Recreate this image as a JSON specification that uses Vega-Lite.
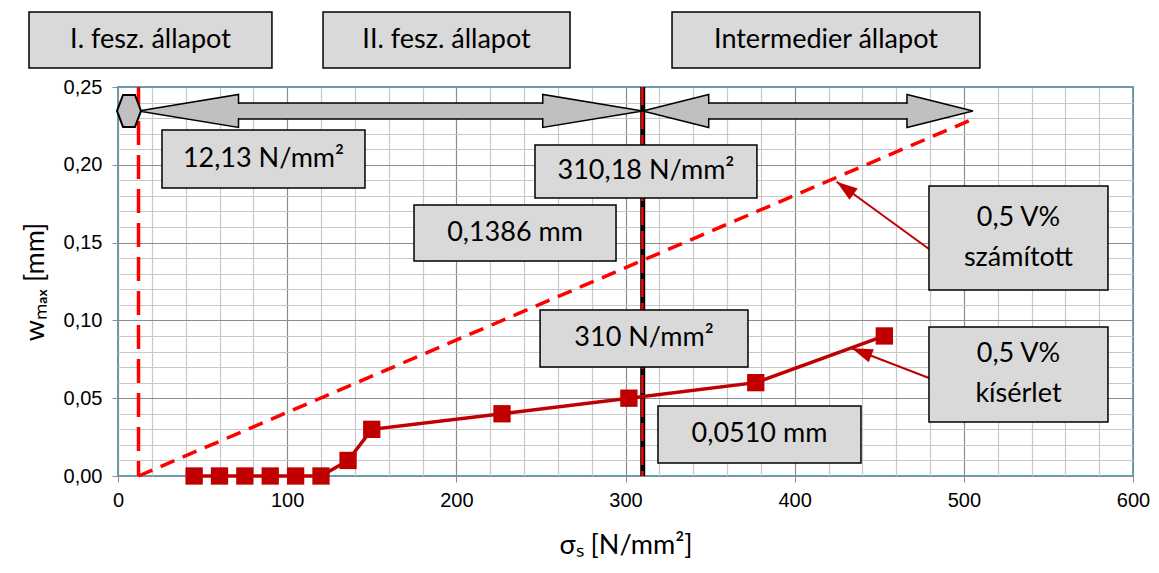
{
  "$schema": "https://vega.github.io/schema/vega-lite/v6.json",
  "width": 1015,
  "height": 389,
  "autosize": {"type": "none"},
  "padding": {"left": 118, "top": 87, "right": 26, "bottom": 97},
  "background": "white",
  "config": {
    "view": {"stroke": "#4BACC6", "strokeWidth": 2},
    "axis": {
      "labelFont": "Liberation Sans",
      "labelFontSize": 20,
      "labelColor": "black",
      "titleFont": "Lato",
      "titleFontSize": 27,
      "titleFontWeight": "normal",
      "titleColor": "black",
      "domain": false,
      "grid": true,
      "gridWidth": 1.2,
      "tickSize": 6
    }
  },
  "datasets": {
    "experiment": [
      {"sigma": 45, "w": 0},
      {"sigma": 60, "w": 0},
      {"sigma": 75, "w": 0},
      {"sigma": 90, "w": 0},
      {"sigma": 105, "w": 0},
      {"sigma": 120, "w": 0},
      {"sigma": 136, "w": 0.01},
      {"sigma": 150, "w": 0.03},
      {"sigma": 227, "w": 0.04},
      {"sigma": 302, "w": 0.05},
      {"sigma": 377, "w": 0.06},
      {"sigma": 453, "w": 0.09}
    ],
    "calculated": [
      {"sigma": 12.13, "w": 0},
      {"sigma": 310.18, "w": 0.1386},
      {"sigma": 505, "w": 0.2292}
    ],
    "arrows": [
      {"name": "a1", "tipL": 12.13, "tipR": 310.18, "baseL": 71.2, "baseR": 251.1},
      {"name": "a2", "tipL": 310.18, "tipR": 505.4, "baseL": 349.2, "baseR": 466.4}
    ],
    "boxes": [
      {"label": "I. fesz. állapot", "lines": 1, "x1": -52.6, "x2": 91.0, "y1": 0.2982, "y2": 0.2622},
      {"label": "II. fesz. állapot", "lines": 1, "x1": 121.2, "x2": 267.2, "y1": 0.2982, "y2": 0.2622},
      {"label": "Intermedier állapot", "lines": 1, "x1": 327.5, "x2": 509.5, "y1": 0.2982, "y2": 0.2622},
      {"label": "12,13 N/mm²", "lines": 1, "x1": 26.0, "x2": 146.0, "y1": 0.2224, "y2": 0.1851},
      {"label": "310,18 N/mm²", "lines": 1, "x1": 246.5, "x2": 377.7, "y1": 0.2127, "y2": 0.1787},
      {"label": "0,1386 mm", "lines": 1, "x1": 175.0, "x2": 294.4, "y1": 0.1742, "y2": 0.1382},
      {"label": "0,5 V%\nszámított", "lines": 2, "x1": 479.4, "x2": 585.2, "y1": 0.1864, "y2": 0.1195},
      {"label": "310 N/mm²", "lines": 1, "x1": 249.5, "x2": 372.4, "y1": 0.1067, "y2": 0.0701},
      {"label": "0,0510 mm", "lines": 1, "x1": 319.2, "x2": 439.2, "y1": 0.0450, "y2": 0.0084},
      {"label": "0,5 V%\nkísérlet", "lines": 2, "x1": 479.4, "x2": 585.2, "y1": 0.0958, "y2": 0.0347}
    ],
    "callouts": [
      {"name": "szamitott", "x1": 479.4, "y1": 0.1459, "x2": 424.8, "y2": 0.1891},
      {"name": "kiserlet", "x1": 479.4, "y1": 0.0630, "x2": 433.7, "y2": 0.0821}
    ],
    "vlines": [
      {"name": "s1", "sigma": 12.13},
      {"name": "s2", "sigma": 310.18},
      {"name": "s3", "sigma": 310}
    ],
    "smallarrow": [
      {"sigma": 6.5, "w": 0.2346}
    ]
  },
  "layer": [
    {
      "data": {"name": "experiment"},
      "mark": {"type": "rule", "opacity": 0},
      "encoding": {
        "x": {
          "field": "sigma", "type": "quantitative",
          "scale": {"domain": [0, 600], "nice": false, "zero": false},
          "axis": {
            "values": [0, 20, 40, 60, 80, 100, 120, 140, 160, 180, 200, 220, 240, 260, 280, 300, 320, 340, 360, 380, 400, 420, 440, 460, 480, 500, 520, 540, 560, 580, 600],
            "tickCount": 200,
            "format": "d",
            "labelExpr": "datum.value % 100 === 0 ? datum.label : ''",
            "labelOverlap": false,
            "labelFlush": false,
            "labelBound": false,
            "gridColor": {"condition": {"test": "datum.value % 100 === 0", "value": "#8C8C8C"}, "value": "#C8C8C8"},
            "tickColor": {"condition": {"test": "datum.value % 100 === 0", "value": "#8C8C8C"}, "value": "rgba(0,0,0,0)"},
            "labelPadding": 8,
            "title": "σₛ [N/mm²]",
            "titlePadding": 22
          }
        },
        "y": {
          "field": "w", "type": "quantitative",
          "scale": {"domain": [0, 0.25], "nice": false, "zero": false},
          "axis": {
            "values": [0, 0.01, 0.02, 0.03, 0.04, 0.05, 0.06, 0.07, 0.08, 0.09, 0.1, 0.11, 0.12, 0.13, 0.14, 0.15, 0.16, 0.17, 0.18, 0.19, 0.2, 0.21, 0.22, 0.23, 0.24, 0.25],
            "tickCount": 200,
            "labelExpr": "round(datum.value*100) % 5 === 0 ? replace(format(datum.value, '.2f'), '.', ',') : ''",
            "labelOverlap": false,
            "labelFlush": false,
            "labelBound": false,
            "gridColor": {"condition": {"test": "round(datum.value*100) % 5 === 0", "value": "#8C8C8C"}, "value": "#C8C8C8"},
            "tickColor": {"condition": {"test": "round(datum.value*100) % 5 === 0", "value": "#8C8C8C"}, "value": "rgba(0,0,0,0)"},
            "labelPadding": 10,
            "title": "wₘₐₓ [mm]",
            "titlePadding": 14
          }
        }
      }
    },
    {
      "data": {"name": "vlines"},
      "transform": [{"filter": "datum.name === 's1'"}],
      "mark": {"type": "rule", "color": "#FF0000", "strokeWidth": 3.5, "strokeDash": [24, 10]},
      "encoding": {
        "x": {"field": "sigma", "type": "quantitative"}
      }
    },
    {
      "data": {"name": "vlines"},
      "transform": [{"filter": "datum.name === 's2'"}],
      "mark": {"type": "rule", "color": "black", "strokeWidth": 5},
      "encoding": {
        "x": {"field": "sigma", "type": "quantitative"}
      }
    },
    {
      "data": {"name": "vlines"},
      "transform": [{"filter": "datum.name === 's3'"}],
      "mark": {"type": "rule", "color": "#FF0000", "strokeWidth": 2.5, "strokeDash": [18, 6]},
      "encoding": {
        "x": {"field": "sigma", "type": "quantitative"}
      }
    },
    {
      "data": {"name": "calculated"},
      "mark": {"type": "line", "color": "#FF0000", "strokeWidth": 3.5, "strokeDash": [15, 9]},
      "encoding": {
        "x": {"field": "sigma", "type": "quantitative"},
        "y": {"field": "w", "type": "quantitative"}
      }
    },
    {
      "data": {"name": "experiment"},
      "mark": {"type": "line", "color": "#C00000", "strokeWidth": 3.5,
        "point": {"shape": "square", "size": 300, "filled": true, "color": "#C00000", "opacity": 1}},
      "encoding": {
        "x": {"field": "sigma", "type": "quantitative"},
        "y": {"field": "w", "type": "quantitative"}
      }
    },
    {
      "data": {"name": "arrows"},
      "mark": {"type": "rect", "fill": "#C0C0C0", "stroke": "black", "strokeWidth": 1.5},
      "encoding": {
        "x": {"field": "baseL", "type": "quantitative"},
        "x2": {"field": "baseR"},
        "y": {"datum": 0.2397, "type": "quantitative"},
        "y2": {"datum": 0.2294}
      }
    },
    {
      "data": {"name": "arrows"},
      "transform": [{"filter": "datum.name === 'a1'"}],
      "mark": {"type": "point", "shape": "M0,0L2,-0.33L2,0.33Z", "size": 10000, "filled": true, "fill": "#C0C0C0", "stroke": "black", "strokeWidth": 1.5, "opacity": 1},
      "encoding": {
        "x": {"field": "tipL", "type": "quantitative"},
        "y": {"datum": 0.2346, "type": "quantitative"}
      }
    },
    {
      "data": {"name": "arrows"},
      "transform": [{"filter": "datum.name === 'a1'"}],
      "mark": {"type": "point", "shape": "M0,0L-2,-0.33L-2,0.33Z", "size": 10000, "filled": true, "fill": "#C0C0C0", "stroke": "black", "strokeWidth": 1.5, "opacity": 1},
      "encoding": {
        "x": {"field": "tipR", "type": "quantitative"},
        "y": {"datum": 0.2346, "type": "quantitative"}
      }
    },
    {
      "data": {"name": "arrows"},
      "transform": [{"filter": "datum.name === 'a2'"}],
      "mark": {"type": "point", "shape": "M0,0L2,-0.5L2,0.5Z", "size": 4356, "filled": true, "fill": "#C0C0C0", "stroke": "black", "strokeWidth": 1.5, "opacity": 1},
      "encoding": {
        "x": {"field": "tipL", "type": "quantitative"},
        "y": {"datum": 0.2346, "type": "quantitative"}
      }
    },
    {
      "data": {"name": "arrows"},
      "transform": [{"filter": "datum.name === 'a2'"}],
      "mark": {"type": "point", "shape": "M0,0L-2,-0.5L-2,0.5Z", "size": 4356, "filled": true, "fill": "#C0C0C0", "stroke": "black", "strokeWidth": 1.5, "opacity": 1},
      "encoding": {
        "x": {"field": "tipR", "type": "quantitative"},
        "y": {"datum": 0.2346, "type": "quantitative"}
      }
    },
    {
      "data": {"name": "arrows"},
      "mark": {"type": "rect", "fill": "#C0C0C0", "strokeWidth": 0, "xOffset": -4, "x2Offset": 4},
      "encoding": {
        "x": {"field": "baseL", "type": "quantitative"},
        "x2": {"field": "baseR"},
        "y": {"datum": 0.2391, "type": "quantitative"},
        "y2": {"datum": 0.2300}
      }
    },
    {
      "data": {"name": "smallarrow"},
      "mark": {"type": "point", "shape": "M-1.5,0L-0.75,-2L0.75,-2L1.5,0L0.75,2L-0.75,2Z", "size": 256, "filled": true, "fill": "#C0C0C0", "stroke": "black", "strokeWidth": 2, "opacity": 1},
      "encoding": {
        "x": {"field": "sigma", "type": "quantitative"},
        "y": {"field": "w", "type": "quantitative"}
      }
    },
    {
      "data": {"name": "callouts"},
      "mark": {"type": "rule", "color": "#C00000", "strokeWidth": 2},
      "encoding": {
        "x": {"field": "x1", "type": "quantitative"},
        "y": {"field": "y1", "type": "quantitative"},
        "x2": {"field": "x2"},
        "y2": {"field": "y2"}
      }
    },
    {
      "data": {"name": "callouts"},
      "transform": [{"filter": "datum.name === 'szamitott'"}],
      "mark": {"type": "point", "shape": "M0,0L0.5,1.5L-0.5,1.5Z", "size": 784, "filled": true, "color": "#C00000", "opacity": 1, "angle": 306},
      "encoding": {
        "x": {"field": "x2", "type": "quantitative"},
        "y": {"field": "y2", "type": "quantitative"}
      }
    },
    {
      "data": {"name": "callouts"},
      "transform": [{"filter": "datum.name === 'kiserlet'"}],
      "mark": {"type": "point", "shape": "M0,0L0.5,1.5L-0.5,1.5Z", "size": 784, "filled": true, "color": "#C00000", "opacity": 1, "angle": 291},
      "encoding": {
        "x": {"field": "x2", "type": "quantitative"},
        "y": {"field": "y2", "type": "quantitative"}
      }
    },
    {
      "data": {"name": "boxes"},
      "mark": {"type": "rect", "fill": "#D9D9D9", "stroke": "black", "strokeWidth": 1.5},
      "encoding": {
        "x": {"field": "x1", "type": "quantitative"},
        "x2": {"field": "x2"},
        "y": {"field": "y1", "type": "quantitative"},
        "y2": {"field": "y2"}
      }
    },
    {
      "data": {"name": "boxes"},
      "transform": [
        {"filter": "datum.lines === 1"},
        {"calculate": "(datum.x1 + datum.x2) / 2", "as": "cx"},
        {"calculate": "(datum.y1 + datum.y2) / 2", "as": "cy"}
      ],
      "mark": {"type": "text", "font": "Lato", "fontSize": 27, "color": "black", "align": "center", "baseline": "middle"},
      "encoding": {
        "x": {"field": "cx", "type": "quantitative"},
        "y": {"field": "cy", "type": "quantitative"},
        "text": {"field": "label"}
      }
    },
    {
      "data": {"name": "boxes"},
      "transform": [
        {"filter": "datum.lines === 2"},
        {"calculate": "(datum.x1 + datum.x2) / 2", "as": "cx"},
        {"calculate": "(datum.y1 + datum.y2) / 2", "as": "cy"}
      ],
      "mark": {"type": "text", "font": "Lato", "fontSize": 27, "color": "black", "align": "center", "baseline": "middle", "lineBreak": "\n", "lineHeight": 40, "dy": -20},
      "encoding": {
        "x": {"field": "cx", "type": "quantitative"},
        "y": {"field": "cy", "type": "quantitative"},
        "text": {"field": "label"}
      }
    }
  ]
}
